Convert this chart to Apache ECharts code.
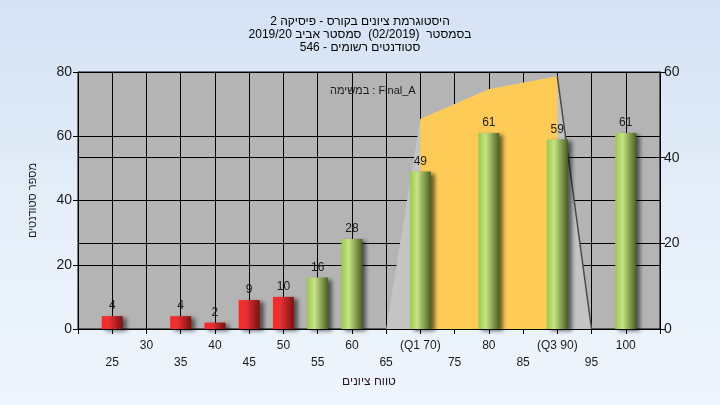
<!DOCTYPE html>
<html>
<head>
<meta charset="utf-8">
<script src="https://cdn.jsdelivr.net/npm/echarts@6/dist/echarts.min.js"></script>
<style>
html,body{margin:0;padding:0;}
#c{width:720px;height:405px;background:linear-gradient(to bottom,#d4e2f4 0%,#e6eff9 55%,#eef5fc 100%);}
</style>
</head>
<body>
<div id="c"></div>
<script>
// ---- data ----
const titleLines = [
  'היסטוגרמת ציונים בקורס - פיסיקה 2',
  'בסמסטר  (02/2019)  סמסטר אביב 2019/20',
  'סטודנטים רשומים - 546'
];
const noteText = 'במשימה : Final_A';
const yAxisName = 'מספר סטודנטים';
const xAxisName = 'טווח ציונים';
const scores = [25, 30, 35, 40, 45, 50, 55, 60, 65, 70, 75, 80, 85, 90, 95, 100];
const counts = [4, 0, 4, 2, 9, 10, 16, 28, 0, 49, 0, 61, 0, 59, 0, 61];
const tickValues = [25, 30, 35, 40, 45, 50, 55, 60, 65, 70, 75, 80, 85, 90, 95, 100];
const tickLabels = ['25', '30', '35', '40', '45', '50', '55', '60', '65', '(Q1 70)', '75', '80', '85', '(Q3 90)', '95', '100'];
const curveX = [65, 70, 80, 90, 95];
const curveY = [0, 49, 56, 59, 0];
const q1 = 70, q3 = 90;
const passScore = 55;

// ---- build ----
const RLE = '\u202B', PDF = '\u202C';
const titleText = titleLines.map(s => RLE + s + PDF).join('\n');

const redGrad = new echarts.graphic.LinearGradient(0, 0, 1, 0, [
  {offset: 0, color: '#ff2626'}, {offset: 0.35, color: '#e83232'}, {offset: 1, color: '#7e1010'}
]);
const greenGrad = new echarts.graphic.LinearGradient(0, 0, 1, 0, [
  {offset: 0, color: '#9cc84a'}, {offset: 0.35, color: '#c6e485'}, {offset: 1, color: '#4a6020'}
]);

const barData = scores.map((s, i) => counts[i] > 0 ? [s, counts[i]] : [s, '-']);
const curveData = curveX.map((x, i) => [x, curveY[i]]);
const iqrData = curveData.filter(d => d[0] >= q1 && d[0] <= q3);
const tailData = curveData.filter(d => d[0] >= q3);

const font = 'Liberation Sans, Arial, sans-serif';
const chart = echarts.init(document.getElementById('c'), null, {renderer: 'canvas'});
chart.setOption({
  backgroundColor: 'transparent',
  animation: false,
  title: [{
    text: titleText,
    left: 'center', top: 10,
    textStyle: {fontSize: 12, fontWeight: 'normal', color: '#000', fontFamily: font, lineHeight: 13}
  }, {
    text: noteText,
    left: 325, top: 80,
    textStyle: {fontSize: 11, fontWeight: 'normal', color: '#1a1a1a', fontFamily: font}
  }],
  grid: {left: 78, right: 60, top: 72, bottom: 76, show: true, backgroundColor: '#b4b4b4', borderColor: '#000', borderWidth: 1},
  xAxis: {
    type: 'value', min: 20, max: 105, interval: 5,
    name: xAxisName, nameLocation: 'middle', nameGap: 47,
    nameTextStyle: {fontSize: 12, color: '#2a102a', fontFamily: font},
    axisLine: {show: true, lineStyle: {color: '#000'}},
    axisTick: {show: true, length: 5, lineStyle: {color: '#000'}},
    splitLine: {show: true, lineStyle: {color: '#000', width: 1}},
    axisLabel: {
      fontSize: 12, color: '#1a1a1a', fontFamily: font, margin: 8, lineHeight: 17,
      formatter: function (v) {
        const i = tickValues.indexOf(v);
        if (i < 0) return '';
        return i % 2 === 0 ? '\n' + tickLabels[i] : tickLabels[i];
      }
    }
  },
  yAxis: [{
    type: 'value', min: 0, max: 80, interval: 20, position: 'left',
    name: yAxisName, nameLocation: 'middle', nameGap: 40, nameRotate: 90,
    nameTextStyle: {fontSize: 11, color: '#1a1a1a', fontFamily: font},
    axisLine: {show: true, lineStyle: {color: '#000'}},
    axisTick: {show: true, length: 5, lineStyle: {color: '#000'}},
    splitLine: {show: true, lineStyle: {color: '#000', width: 1}},
    axisLabel: {fontSize: 14, color: '#1a1a1a', fontFamily: font, margin: 6}
  }, {
    type: 'value', min: 0, max: 60, interval: 20, position: 'right',
    axisLine: {show: true, lineStyle: {color: '#000'}},
    axisTick: {show: true, length: 5, lineStyle: {color: '#000'}},
    splitLine: {show: true, lineStyle: {color: '#000', width: 1}},
    axisLabel: {fontSize: 14, color: '#1a1a1a', fontFamily: font, margin: 4}
  }],
  series: [{
    type: 'line', yAxisIndex: 1, data: curveData, symbol: 'none', z: 1,
    lineStyle: {opacity: 0}, areaStyle: {color: '#c4c4c4', opacity: 1}, silent: true
  }, {
    type: 'line', yAxisIndex: 1, data: iqrData, symbol: 'none', z: 2,
    lineStyle: {opacity: 0}, areaStyle: {color: '#fecb57', opacity: 1}, silent: true
  }, {
    type: 'line', yAxisIndex: 1, data: tailData, symbol: 'none', z: 3,
    lineStyle: {color: '#4a4a4a', width: 1.5}, silent: true
  }, {
    type: 'bar', yAxisIndex: 0, data: barData, barWidth: 21, z: 4,
    itemStyle: {
      color: function (p) { return p.value[0] < passScore ? redGrad : greenGrad; },
      shadowColor: 'rgba(0,0,0,0.55)', shadowBlur: 4, shadowOffsetX: 4, shadowOffsetY: 2
    },
    label: {
      show: true, position: 'top', distance: 4, fontSize: 12, color: '#1a1a1a', fontFamily: font,
      formatter: function (p) { return p.value[1]; }
    }
  }]
});
</script>
</body>
</html>
